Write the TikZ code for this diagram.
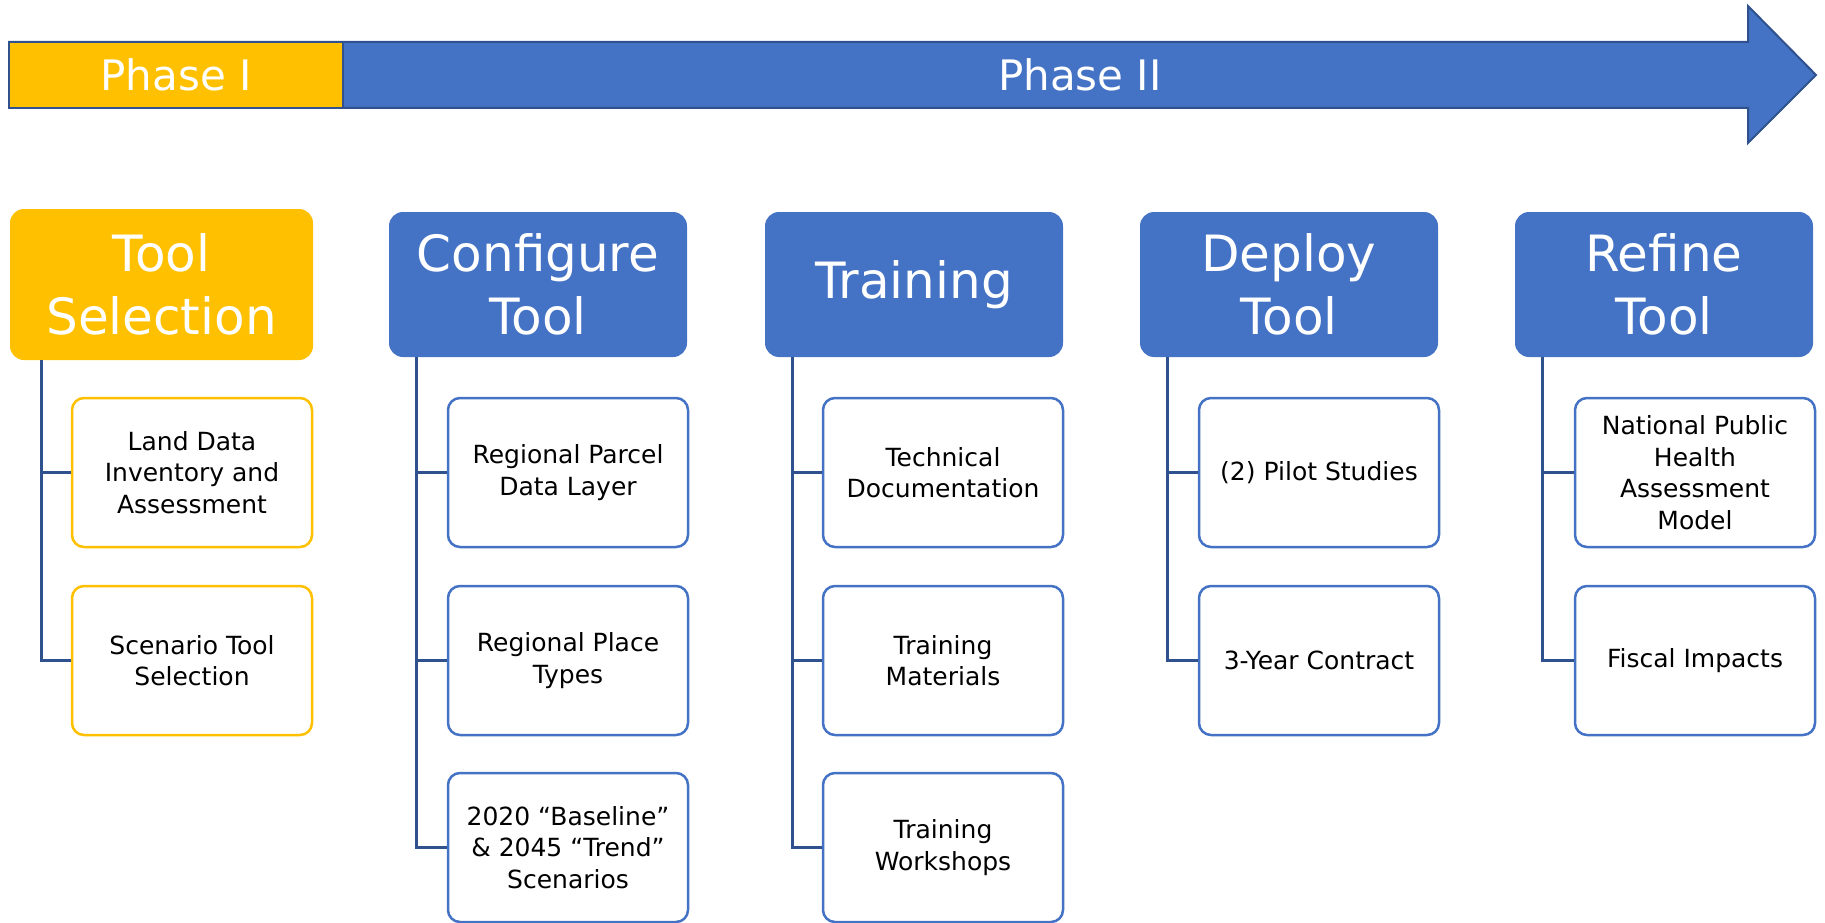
\documentclass[tikz,border=0pt]{standalone}
\usepackage{fontspec}
\setmainfont{DejaVu Sans}
\definecolor{gold}{HTML}{FFC000}
\definecolor{mblue}{HTML}{4472C4}
\definecolor{dblue}{HTML}{2F528F}
\tikzset{
  hdr/.style={rectangle, rounded corners=14pt, fill=mblue, draw=none, text=white,
    minimum width=298pt, minimum height=145pt, inner sep=0pt, align=center,
    font=\fontsize{50}{63}\selectfont},
  hdry/.style={hdr, fill=gold, minimum width=303pt, minimum height=151pt},
  child/.style={rectangle, rounded corners=12pt, draw=mblue, line width=2.5pt, fill=white,
    minimum width=240pt, minimum height=149pt, inner sep=0pt, align=center,
    font=\fontsize{25}{31.5}\selectfont},
  childy/.style={child, draw=gold},
  conn/.style={draw=dblue, line width=3pt},
  phasetxt/.style={text=white, font=\fontsize{42}{50}\selectfont, inner sep=0pt}
}
\begin{document}
\begin{tikzpicture}[x=1pt,y=-1pt]
\useasboundingbox (0,0) rectangle (1825,923);
% big arrow
\draw[fill=mblue, draw=dblue, line width=2pt, line join=miter]
  (9,42) -- (1748,42) -- (1748,6) -- (1816,75) -- (1748,143) -- (1748,108) -- (9,108) -- cycle;
\node[rectangle, fill=gold, draw=dblue, line width=2pt, minimum width=334pt, minimum height=66pt,
  phasetxt] (p1) at (176,75) {Phase I};
\node[phasetxt] (p2) at (1080,75) {Phase II};
% headers
\node[hdry] (h1) at (161.5,284.5) {Tool\\Selection};
\node[hdr] (h2) at (538,284.5) {Configure\\Tool};
\node[hdr] (h3) at (914,284.5) {Training};
\node[hdr] (h4) at (1289,284.5) {Deploy\\Tool};
\node[hdr] (h5) at (1664,284.5) {Refine\\Tool};
% children
\node[childy] (c1a) at (192,472.5) {Land Data\\Inventory and\\Assessment};
\node[childy] (c1b) at (192,660.5) {Scenario Tool\\Selection};
\node[child] (c2a) at (568,472.5) {Regional Parcel\\Data Layer};
\node[child] (c2b) at (568,660.5) {Regional Place\\Types};
\node[child] (c2c) at (568,847.5) {2020 “Baseline”\\\& 2045 “Trend”\\Scenarios};
\node[child] (c3a) at (943,472.5) {Technical\\Documentation};
\node[child] (c3b) at (943,660.5) {Training\\Materials};
\node[child] (c3c) at (943,847.5) {Training\\Workshops};
\node[child] (c4a) at (1319,472.5) {(2) Pilot Studies};
\node[child] (c4b) at (1319,660.5) {3-Year Contract};
\node[child] (c5a) at (1695,472.5) {National Public\\Health\\Assessment\\Model};
\node[child] (c5b) at (1695,660.5) {Fiscal Impacts};
% connectors
\draw[conn] ([xshift=32pt]h1.south west) |- (c1a.west);
\draw[conn] ([xshift=32pt]h1.south west) |- (c1b.west);
\draw[conn] ([xshift=28pt]h2.south west) |- (c2a.west);
\draw[conn] ([xshift=28pt]h2.south west) |- (c2b.west);
\draw[conn] ([xshift=28pt]h2.south west) |- (c2c.west);
\draw[conn] ([xshift=28pt]h3.south west) |- (c3a.west);
\draw[conn] ([xshift=28pt]h3.south west) |- (c3b.west);
\draw[conn] ([xshift=28pt]h3.south west) |- (c3c.west);
\draw[conn] ([xshift=28pt]h4.south west) |- (c4a.west);
\draw[conn] ([xshift=28pt]h4.south west) |- (c4b.west);
\draw[conn] ([xshift=28pt]h5.south west) |- (c5a.west);
\draw[conn] ([xshift=28pt]h5.south west) |- (c5b.west);
\end{tikzpicture}
\end{document}
